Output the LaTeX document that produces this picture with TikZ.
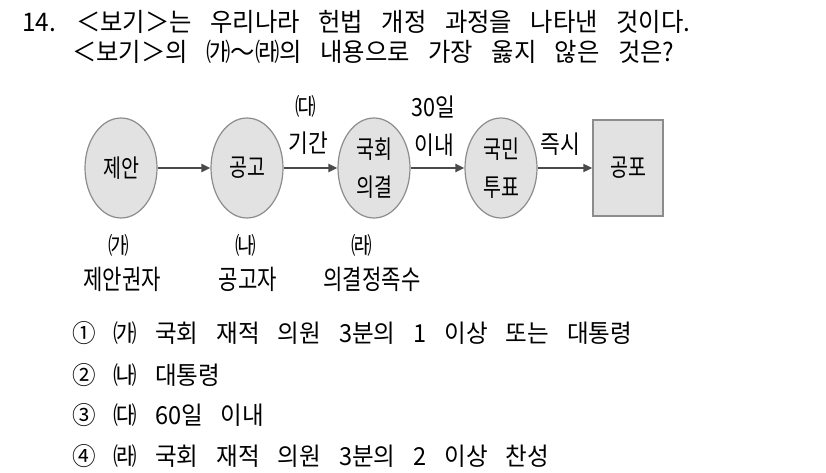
\documentclass[tikz,border=0pt]{standalone}
\usepackage{fontspec}
\setmainfont{Noto Sans CJK KR}
\newfontfamily\qfont[FakeStretch=0.95,WordSpace=3.2]{Noto Sans CJK KR}
\newfontfamily\ofont[FakeStretch=0.95,WordSpace=3.4]{Noto Sans CJK KR}
\newfontfamily\dgfont[FakeStretch=0.78]{Noto Sans CJK KR}
\newfontfamily\lbfont[FakeStretch=0.86]{Noto Sans CJK KR}
\usetikzlibrary{arrows.meta,shapes.geometric}
\definecolor{shapefill}{HTML}{E2E2E2}
\definecolor{shapeline}{HTML}{8C8C8C}
\definecolor{arrowcol}{HTML}{4A4A4A}
\tikzset{
  qtxt/.style={anchor=base west,inner sep=0pt,font=\qfont\fontsize{25.6}{25.6}\selectfont},
  otxt/.style={anchor=base west,inner sep=0pt,font=\ofont\fontsize{24.8}{24.8}\selectfont},
  stage/.style={ellipse,draw=shapeline,fill=shapefill,line width=1.2pt,minimum width=72pt,minimum height=100pt,inner sep=0pt,align=center,font=\dgfont\fontsize{25}{38}\selectfont},
  final/.style={rectangle,draw=shapeline,fill=shapefill,line width=1.5pt,minimum width=70pt,minimum height=96pt,inner sep=0pt,font=\dgfont\fontsize{25}{25}\selectfont},
  lbl/.style={inner sep=0pt,font=\lbfont\fontsize{25}{25}\selectfont},
  tag/.style={inner sep=0pt,font=\lbfont\fontsize{24}{24}\selectfont},
  big/.style={inner sep=0pt,font=\dgfont\fontsize{27}{27}\selectfont},
  flow/.style={draw=arrowcol,line width=2.6pt,-{Triangle[length=9pt,width=8pt]}}
}
\begin{document}
\begin{tikzpicture}[x=1pt,y=-1pt]
\useasboundingbox[fill=white] (0,0) rectangle (826,473);
\node[qtxt] (q1) at (22,32) {14. ＜보기＞는 우리나라 헌법 개정 과정을 나타낸 것이다.};
\node[qtxt] (q2) at (72,62) {＜보기＞의 ㈎～㈑의 내용으로 가장 옳지 않은 것은?};

\node[stage] (s1) at (121,168) {제안};
\node[stage] (s2) at (247,168) {공고};
\node[stage] (s3) at (374,168) {국회\\의결};
\node[stage] (s4) at (501,168) {국민\\투표};
\node[final] (s5) at (628,168) {공포};

\draw[flow] (s1) -- (s2);
\draw[flow] (s2) -- (s3);
\draw[flow] (s3) -- (s4);
\draw[flow] (s4) -- (s5);

\node[tag] (t3) at (306,106) {㈐};
\node[lbl] (l3) at (308,143) {기간};
\node[lbl] (l4a) at (433,107) {30일};
\node[lbl] (l4b) at (434,145) {이내};
\node[lbl] (l5) at (560,144) {즉시};

\node[tag] (t1) at (119,245) {㈎};
\node[big] (b1) at (122,279) {제안권자};
\node[tag] (t2) at (246,245) {㈏};
\node[big] (b2) at (248,279) {공고자};
\node[tag] (t4) at (362,245) {㈑};
\node[big] (b4) at (372,279) {의결정족수};

\node[otxt] (o1) at (72,342) {① ㈎ 국회 재적 의원 3분의 1 이상 또는 대통령};
\node[otxt] (o2) at (72,384) {② ㈏ 대통령};
\node[otxt] (o3) at (72,424) {③ ㈐ 60일 이내};
\node[otxt] (o4) at (72,465) {④ ㈑ 국회 재적 의원 3분의 2 이상 찬성};
\end{tikzpicture}
\end{document}
